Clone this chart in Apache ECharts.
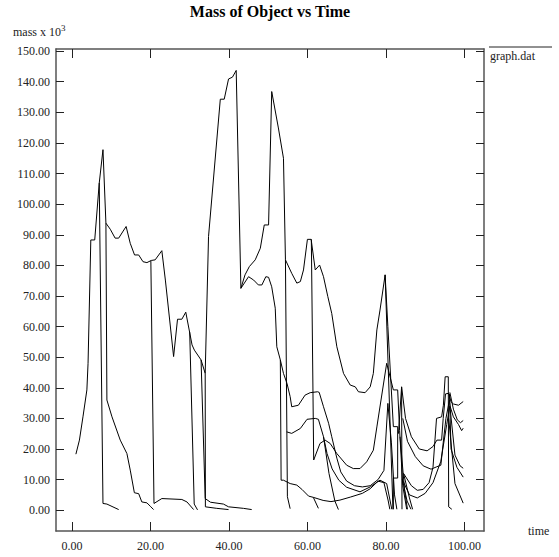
<!DOCTYPE html>
<html>
<head>
<meta charset="utf-8">
<script src="https://cdn.jsdelivr.net/npm/echarts@6/dist/echarts.min.js"></script>
<style>
  html, body { margin: 0; padding: 0; background: #fff; }
  #chart { width: 559px; height: 557px; }
</style>
</head>
<body>
<div id="chart"></div>
<script>
// tick positions
const xTicks = [0, 20, 40, 60, 80, 100];
const yTicks = [0, 10, 20, 30, 40, 50, 60, 70, 80, 90, 100, 110, 120, 130, 140, 150];

// one line per object track, [time, mass x 10^3]
const trunk = [[1.0,18.3],[1.9,22.9],[2.8,30.5],[3.8,39.3],[4.1,48.0],[4.8,88.3],[5.8,88.3],[6.95,106.9],[7.9,117.8],[8.65,93.8],[9.76,91.8],[11.0,88.9],[11.9,88.9],[13.8,92.7],[14.85,87.2],[15.95,83.4],[17.0,83.4],[18.1,81.2],[19.1,80.9],[20.2,81.6],[21.2,81.8],[22.9,84.8],[23.8,75.2],[25.9,50.2],[26.9,62.4],[28.0,62.4],[29.0,64.7],[30.6,54.0],[31.2,52.3],[32.9,49.1],[33.95,44.7],[34.8,89.4],[37.8,134.3],[38.8,134.3],[39.9,140.9],[40.9,141.5],[41.85,143.7],[43.05,72.5],[44.1,76.9],[45.2,79.6],[46.7,81.8],[48.0,85.6],[49.0,93.2],[50.1,93.2],[50.9,136.8],[52.6,124.9],[53.9,115.0],[54.4,81.8],[56.0,77.4],[57.3,74.2],[58.2,74.7],[59.0,78.5],[60.0,88.5],[60.95,88.5],[62.0,78.5],[63.1,80.1],[64.1,76.3],[65.2,69.8],[66.2,64.3],[67.5,53.4],[69.2,44.7],[70.9,40.9],[72.2,40.3],[73.0,38.7],[74.7,38.4],[76.0,40.3],[76.8,44.7],[77.7,58.9],[78.5,65.4],[79.8,76.9],[81.8,0.3]];
const b1 = [[6.95,106.9],[7.9,2.2],[8.9,2.0],[11.9,0.2]];
const b2 = [[8.65,93.8],[8.9,36.0],[10.2,30.5],[12.3,22.9],[14.0,18.5],[14.85,13.1],[15.9,5.7],[17.0,5.4],[17.8,2.7],[19.1,2.4],[19.95,1.3],[20.8,0.2]];
const b3 = [[20.1,81.5],[20.9,2.2],[22.9,3.8],[28.0,3.5],[29.3,2.7],[31.0,0.2]];
const b4 = [[30.0,58.2],[31.15,2.0],[32.0,0.1]];
const b5 = [[32.9,49.1],[33.95,3.8],[35.3,2.6],[38.6,2.0],[39.9,1.1],[43.7,0.6],[45.8,0.2]];
const b6 = [[33.95,44.7],[34.0,1.1],[36.9,0.6],[39.9,0.2]];
const b7 = [[43.05,72.5],[45.0,76.3],[46.3,75.2],[47.5,73.6],[48.4,73.6],[49.4,76.3],[50.1,76.1],[50.9,73.0],[51.8,66.0],[52.2,53.4],[53.1,49.1],[53.9,44.7],[54.8,41.4],[55.6,37.1],[56.0,33.8],[57.7,34.3],[59.4,37.6],[60.7,38.4],[62.6,38.7],[63.0,38.5],[64.1,33.8],[65.4,28.4],[66.2,24.0],[67.5,17.0],[68.5,12.5],[70.0,9.5],[72.0,8.0],[74.0,7.6],[76.0,8.0],[78.0,10.0],[79.5,13.0],[80.5,34.9],[81.4,22.0],[82.2,5.0],[82.8,0.3]];
const b8 = [[53.1,49.1],[53.3,9.8],[53.9,9.8],[55.6,8.7],[57.3,8.2],[58.6,6.8],[60.3,4.6],[61.5,4.2],[62.8,0.6]];
const b9 = [[54.4,81.8],[54.9,4.4],[55.6,0.5]];
const b10 = [[54.7,25.6],[56.0,25.1],[58.2,26.7],[59.9,29.7],[62.0,30.0],[62.8,29.7],[64.1,24.0],[65.0,18.5],[66.3,13.5],[68.0,9.8],[70.0,7.5],[73.4,6.0],[76.0,7.6],[78.5,9.8],[80.2,8.7],[81.5,0.3]];
const b11 = [[61.0,88.5],[61.6,16.4],[63.2,21.8],[64.5,22.9],[65.8,21.8],[67.5,18.5],[70.0,14.7],[71.7,13.6],[73.4,13.6],[75.1,15.8],[76.8,19.6],[77.7,27.2],[80.2,48.0],[81.9,39.3],[83.0,39.3],[83.5,26.0],[84.3,8.0],[85.3,0.3]];
const b12 = [[61.5,4.2],[64.0,3.2],[66.0,2.8],[68.3,3.3],[71.0,4.3],[74.0,5.5],[76.0,7.0],[78.0,9.5],[79.5,9.0],[80.6,3.0],[81.0,0.3]];
const b13 = [[64.1,24.0],[65.5,12.0],[67.0,3.0],[67.9,0.2]];
const st = [[79.8,76.9],[80.5,60.0],[81.9,27.3],[83.0,27.3],[83.0,10.5],[81.9,10.5],[81.9,0.3]];
const sp = [[83.2,25.0],[84.0,40.3],[84.1,0.3]];
const r1 = [[84.0,40.3],[85.0,30.0],[86.5,24.0],[88.5,20.0],[90.5,19.4],[92.0,20.8],[93.0,22.9],[94.2,22.9],[94.6,30.0],[95.2,38.0],[96.0,38.2],[96.6,35.4],[97.2,34.7],[98.5,34.3],[99.7,35.5]];
const r2 = [[84.3,30.0],[85.5,22.5],[87.5,17.5],[89.5,14.5],[91.5,13.4],[93.0,14.2],[94.0,14.7],[94.6,22.0],[95.3,30.0],[96.2,36.0],[96.4,33.8],[97.2,30.5],[98.5,28.0],[99.3,26.0],[99.7,26.8]];
const r3 = [[84.5,12.0],[86.5,8.0],[88.0,6.5],[89.5,6.8],[91.0,9.0],[92.0,14.0],[92.9,30.0],[94.2,30.5],[94.65,34.3],[95.1,43.6],[95.9,43.6],[96.0,1.1],[96.8,0.3]];
const r4 = [[84.2,10.0],[86.0,5.0],[88.0,4.0],[90.0,5.5],[92.0,9.0],[94.0,16.0],[95.5,28.0],[96.3,34.0],[97.6,18.0],[98.9,14.5],[99.7,13.7]];
const r5 = [[96.2,38.0],[96.6,20.0],[98.1,14.0],[99.7,10.8]];
const r6 = [[96.0,30.0],[97.6,8.7],[99.7,2.3]];
const r7 = [[96.3,38.5],[97.2,33.0],[98.2,29.5],[99.0,28.6],[99.7,29.3]];
const d1 = [[83.6,24.0],[84.8,6.0],[85.5,0.3]];
const d2 = [[84.2,10.0],[85.4,3.0],[86.4,0.3]];
const d3 = [[84.5,12.0],[86.0,4.0],[86.8,0.3]];

const tracks = [trunk, b1, b2, b3, b4, b5, b6, b7, b8, b9, b10, b11, b12, b13, st, sp, r1, r2, r3, r4, r5, r6, r7, d1, d2, d3];

const font = 'Liberation Serif';
const chart = echarts.init(document.getElementById('chart'), null, { renderer: 'svg' });

const frame = { show: true, onZero: false, lineStyle: { color: '#555', width: 1.5 } };

const option = {
  animation: false,
  grid: { left: 56, right: 75, top: 49, bottom: 26 },
  xAxis: [
    {
      type: 'value', position: 'bottom', min: -4.07, max: 105,
      name: 'time', nameLocation: 'end', nameGap: 44,
      nameTextStyle: { fontFamily: font, fontSize: 12, color: '#222' },
      axisLine: frame,
      axisTick: { inside: true, length: 9, customValues: xTicks, lineStyle: { color: '#222' } },
      axisLabel: { customValues: xTicks, margin: 9, fontFamily: font, fontSize: 12, color: '#222',
        formatter: v => v.toFixed(2) },
      splitLine: { show: false }
    },
    {
      type: 'value', position: 'top', min: -4.07, max: 105,
      axisLine: frame,
      axisTick: { inside: true, length: 9, customValues: xTicks, lineStyle: { color: '#222' } },
      axisLabel: { show: false },
      splitLine: { show: false }
    }
  ],
  yAxis: [
    {
      type: 'value', position: 'left', min: -6.8, max: 150.7,
      axisLine: frame,
      axisTick: { inside: true, length: 8, customValues: yTicks, lineStyle: { color: '#222' } },
      axisLabel: { customValues: yTicks, margin: 6, fontFamily: font, fontSize: 12, color: '#222',
        formatter: v => v.toFixed(2) },
      splitLine: { show: false }
    },
    {
      type: 'value', position: 'right', min: -6.8, max: 150.7,
      axisLine: frame,
      axisTick: { inside: true, length: 8, customValues: yTicks, lineStyle: { color: '#222' } },
      axisLabel: { show: false },
      splitLine: { show: false }
    }
  ],
  graphic: [
    { type: 'text', x: 270, y: 11,
      style: { text: 'Mass of Object vs Time', fontFamily: font, fontSize: 16, fontWeight: 'bold',
        fill: '#000', align: 'center', verticalAlign: 'middle' } },
    { type: 'text', x: 13, y: 32,
      style: { text: '{b|mass x 10}{s|3}', fill: '#222', verticalAlign: 'middle',
        rich: {
          b: { fontFamily: font, fontSize: 12, lineHeight: 18, fill: '#222' },
          s: { fontFamily: font, fontSize: 9, lineHeight: 10, verticalAlign: 'top', fill: '#222' }
        } } },
    { type: 'line', shape: { x1: 489, y1: 47, x2: 552, y2: 47 }, style: { stroke: '#222', lineWidth: 1 } },
    { type: 'text', x: 490, y: 56,
      style: { text: 'graph.dat', fontFamily: font, fontSize: 12, fill: '#222', verticalAlign: 'middle' } }
  ],
  series: tracks.map(t => ({
    name: 'graph.dat',
    type: 'line',
    data: t,
    symbol: 'none',
    lineStyle: { color: '#000', width: 1 },
    emphasis: { disabled: true },
    silent: true
  }))
};

chart.setOption(option);
</script>
</body>
</html>
